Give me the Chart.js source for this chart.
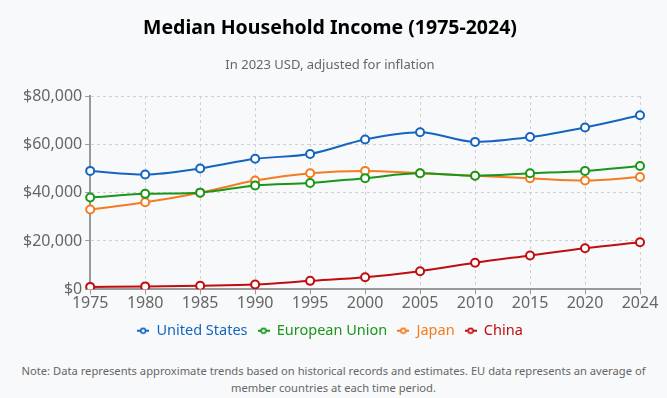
<!DOCTYPE html>
<html>
<head>
<meta charset="utf-8">
<script src="https://cdn.jsdelivr.net/npm/chart.js@4.4.1/dist/chart.umd.min.js"></script>
<style>
  html, body { margin: 0; padding: 0; background: #f8f9fa; }
  #wrap { position: relative; width: 667px; height: 351px; }
  #note { position: absolute; top: 362px; left: 0; width: 667px; text-align: center;
          font-family: "Noto Sans", sans-serif; font-size: 11.2px; line-height: 17px; color: #666; }
</style>
</head>
<body>
<div id="wrap"><canvas id="myChart"></canvas></div>
<div id="note">Note: Data represents approximate trends based on historical records and estimates. EU data represents an average of<br>member countries at each time period.</div>
<script>
var years = ['1975', '1980', '1985', '1990', '1995', '2000', '2005', '2010', '2015', '2020', '2024'];
var us = [49000, 47500, 50000, 54000, 56000, 62000, 65000, 61000, 63000, 67000, 72000];
var eu = [38000, 39500, 40000, 43000, 44000, 46000, 48000, 47000, 48000, 49000, 51000];
var japan = [33000, 36000, 40000, 45000, 48000, 49000, 48000, 47000, 46000, 45000, 46500];
var china = [1000, 1200, 1500, 2000, 3500, 5000, 7500, 11000, 14000, 17000, 19500];

var names = ['United States', 'European Union', 'Japan', 'China'];
var colors = ['#1565c0', '#1a961a', '#f47b20', '#c00d0d'];
var series = [us, eu, japan, china];

// little "-o-" marker for the legend
function legendMark(color) {
    var c = document.createElement('canvas');
    c.width = 12; c.height = 8;
    var g = c.getContext('2d');
    g.strokeStyle = color;
    g.lineWidth = 2;
    g.beginPath(); g.moveTo(0, 4); g.lineTo(12, 4); g.stroke();
    g.fillStyle = '#fff';
    g.lineWidth = 1.6;
    g.beginPath(); g.arc(6, 4, 2.4, 0, Math.PI * 2); g.fill(); g.stroke();
    return c;
}

var datasets = series.map(function(d, i) {
    return {
        label: names[i],
        data: d,
        borderColor: colors[i],
        backgroundColor: '#fff',
        borderWidth: 2,
        pointRadius: 4,
        pointBorderWidth: 2,
        pointBackgroundColor: '#fff',
        cubicInterpolationMode: 'monotone',
        fill: false
    };
});

var font = '"Noto Sans", sans-serif';

new Chart(document.getElementById('myChart'), {
    type: 'line',
    data: { labels: years, datasets: datasets },
    options: {
        responsive: true,
        maintainAspectRatio: false,
        animation: false,
        layout: { padding: { left: 20, right: 27, top: 0, bottom: 3 } },
        plugins: {
            title: {
                display: true,
                text: 'Median Household Income (1975-2024)',
                color: '#000',
                font: { family: font, size: 19.5, weight: 'bold' },
                padding: { top: 17, bottom: 17 }
            },
            subtitle: {
                display: true,
                text: 'In 2023 USD, adjusted for inflation',
                color: '#666',
                font: { family: font, size: 13 },
                padding: { top: 0, bottom: 23 }
            },
            legend: {
                position: 'bottom',
                labels: {
                    usePointStyle: true,
                    boxWidth: 12,
                    font: { family: font, size: 14.5 },
                    padding: 10,
                    generateLabels: function(chart) {
                        return chart.data.datasets.map(function(ds, i) {
                            return {
                                text: ds.label,
                                fontColor: ds.borderColor,
                                pointStyle: legendMark(ds.borderColor),
                                datasetIndex: i,
                                hidden: false,
                                lineWidth: 0
                            };
                        });
                    }
                }
            },
            tooltip: { enabled: false }
        },
        scales: {
            x: {
                offset: false,
                grid: { color: '#d0d0d0', tickColor: '#999', tickLength: 5, tickBorderDash: [] },
                border: { color: '#999', width: 2, dash: [3, 3] },
                ticks: { color: '#666', font: { family: font, size: 16 }, padding: 0, maxRotation: 0, autoSkip: false }
            },
            y: {
                min: 0,
                max: 80000,
                grid: { color: '#d0d0d0', tickColor: '#999', tickLength: 5, tickBorderDash: [] },
                border: { color: '#999', width: 2, dash: [3, 3] },
                ticks: {
                    stepSize: 20000,
                    color: '#666',
                    font: { family: font, size: 16 },
                    padding: 3,
                    callback: function(v) { return '$' + v.toLocaleString('en-US'); }
                }
            }
        }
    }
});
</script>
</body>
</html>
